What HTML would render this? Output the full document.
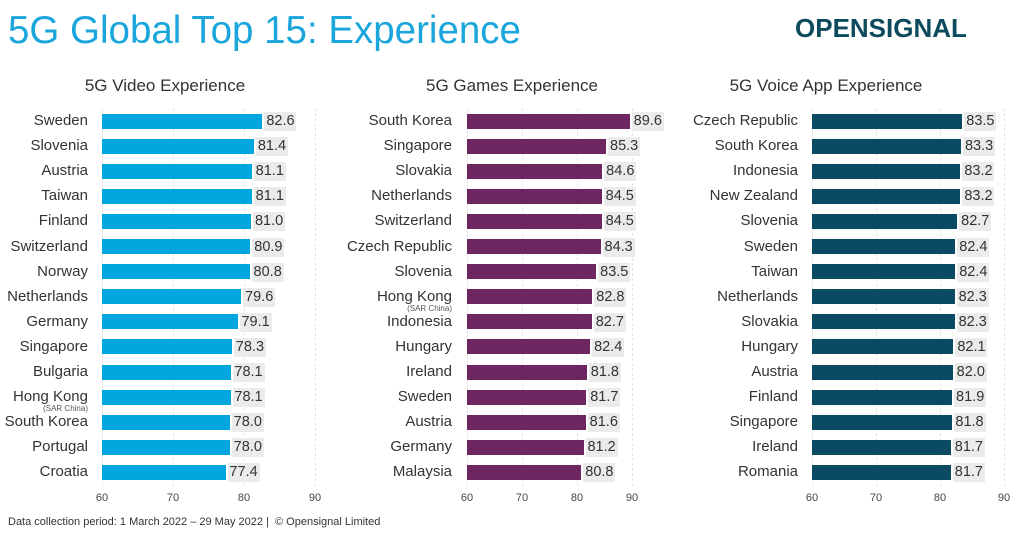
<!DOCTYPE html>
<html><head><meta charset="utf-8"><style>
body{margin:0;width:1024px;height:535px;background:#fff;position:relative;overflow:hidden;font-family:"Liberation Sans",sans-serif;color:#333}
.a{position:absolute;white-space:nowrap}
</style></head><body>
<div class="a" style="left:8px;top:9px;font-size:38.5px;color:#1aa6dc">5G Global Top 15: Experience</div>
<div class="a" style="left:795px;top:13px;font-size:26px;font-weight:bold;color:#0d4a5e;letter-spacing:0px">OPENSIGNAL</div>
<div class="a" style="left:8px;top:516px;font-size:11px;color:#333">Data collection period: 1 March 2022 – 29 May 2022 |&nbsp; © Opensignal Limited</div>
<div id="c"></div>
<script>
var P=[
{t:"5G Video Experience",tc:165,x0:102,s:7.1,lr:88,col:"#00a7df",d:[["Sweden",82.6],["Slovenia",81.4],["Austria",81.1],["Taiwan",81.1],["Finland",81.0],["Switzerland",80.9],["Norway",80.8],["Netherlands",79.6],["Germany",79.1],["Singapore",78.3],["Bulgaria",78.1],["Hong Kong",78.1,1],["South Korea",78.0],["Portugal",78.0],["Croatia",77.4]]},
{t:"5G Games Experience",tc:512,x0:467,s:5.5,lr:452,col:"#6d2660",d:[["South Korea",89.6],["Singapore",85.3],["Slovakia",84.6],["Netherlands",84.5],["Switzerland",84.5],["Czech Republic",84.3],["Slovenia",83.5],["Hong Kong",82.8,1],["Indonesia",82.7],["Hungary",82.4],["Ireland",81.8],["Sweden",81.7],["Austria",81.6],["Germany",81.2],["Malaysia",80.8]]},
{t:"5G Voice App Experience",tc:826,x0:812,s:6.4,lr:798,col:"#0b4a63",d:[["Czech Republic",83.5],["South Korea",83.3],["Indonesia",83.2],["New Zealand",83.2],["Slovenia",82.7],["Sweden",82.4],["Taiwan",82.4],["Netherlands",82.3],["Slovakia",82.3],["Hungary",82.1],["Austria",82.0],["Finland",81.9],["Singapore",81.8],["Ireland",81.7],["Romania",81.7]]}];
var h="";
P.forEach(function(p){
h+='<div class="a" style="left:'+(p.tc-110)+'px;width:220px;text-align:center;top:76px;font-size:17px;color:#333">'+p.t+'</div>';
[60,70,80,90].forEach(function(v,i){var x=p.x0+(v-60)*p.s;
if(i>0)h+='<div class="a" style="left:'+x+'px;top:108px;height:378px;border-left:1px dashed #e4e4e4"></div>';
h+='<div class="a" style="left:'+(x-15)+'px;width:30px;text-align:center;top:492px;font-size:11px;color:#444">'+v+'</div>';});
h+='<div class="a" style="left:'+p.x0+'px;top:108px;height:378px;border-left:1px solid #eee"></div>';
p.d.forEach(function(r,i){var y=121+i*25.1;var w=(r[1]-60)*p.s;
h+='<div class="a" style="left:'+(p.lr-150)+'px;width:150px;text-align:right;top:'+(y-9)+'px;font-size:15px;color:#333">'+r[0]+'</div>';
if(r[2])h+='<div class="a" style="left:'+(p.lr-150)+'px;width:150px;text-align:right;top:'+(y+7)+'px;font-size:8px;color:#555">(SAR China)</div>';
h+='<div class="a" style="left:'+p.x0+'px;top:'+(y-7.5)+'px;width:'+w+'px;height:15px;background:'+p.col+'"></div>';
h+='<div class="a" style="left:'+(p.x0+w+2)+'px;top:'+(y-9)+'px;width:32px;height:19px;background:#ebebeb;font-size:14.5px;line-height:19px;text-align:center;color:#333">'+r[1].toFixed(1)+'</div>';});
});
document.getElementById("c").innerHTML=h;
</script>
</body></html>
